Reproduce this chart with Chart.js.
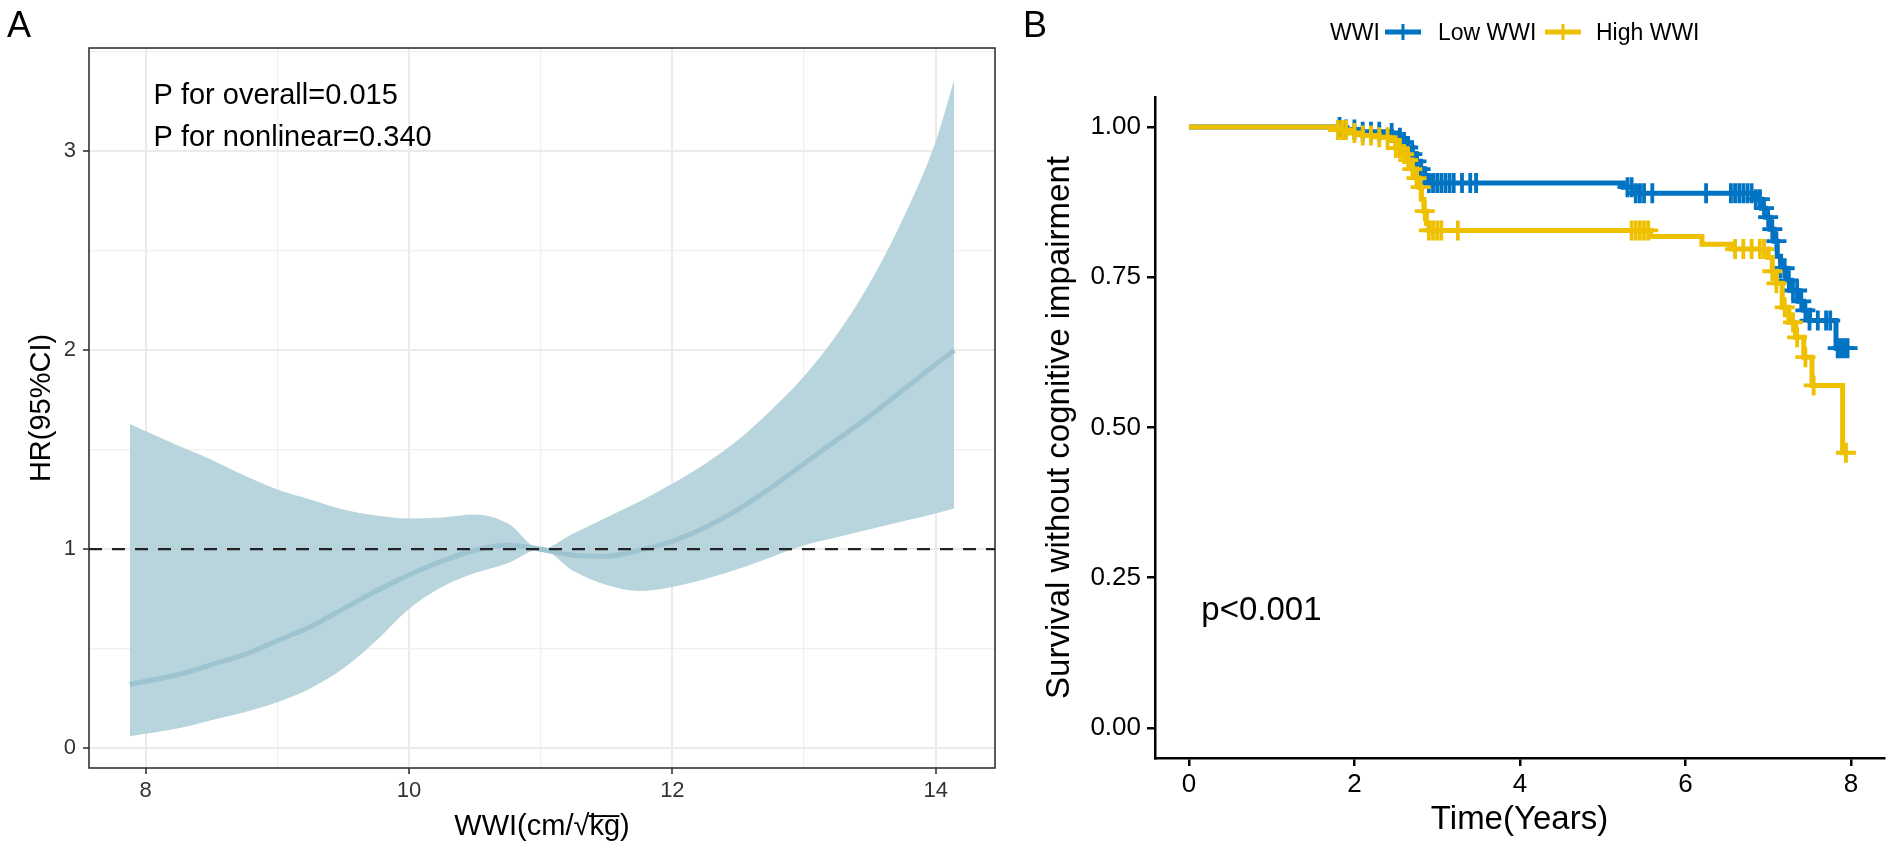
<!DOCTYPE html>
<html>
<head>
<meta charset="utf-8">
<script src="https://cdn.jsdelivr.net/npm/chart.js@4.4.1/dist/chart.umd.min.js"></script>
<style>
  html, body { margin: 0; padding: 0; background: #fff; overflow: hidden; }
  canvas { position: absolute; top: 0; }
  #rcs { left: 0; }
  #km { left: 1000px; }
</style>
</head>
<body>
<canvas id="rcs" width="1000" height="852"></canvas>
<canvas id="km" width="902" height="852"></canvas>
<script>
const FONT = '"Liberation Sans", Arial, sans-serif';

// ---- panel A: restricted cubic spline, HR vs WWI ----
const wwi = [7.88, 8.25, 8.5, 8.75, 9, 9.25, 9.5, 9.75, 10, 10.25, 10.5, 10.75, 11,
  11.25, 11.5, 11.75, 12, 12.25, 12.5, 12.75, 13, 13.25, 13.5, 13.75, 14, 14.14];
const hr = [0.32, 0.37, 0.42, 0.47, 0.54, 0.61, 0.70, 0.79, 0.87, 0.94, 0.995, 1.02, 1.0,
  0.97, 0.965, 0.995, 1.04, 1.11, 1.20, 1.31, 1.43, 1.55, 1.67, 1.80, 1.93, 2.0];
const hrLower = [0.06, 0.10, 0.14, 0.18, 0.23, 0.30, 0.40, 0.54, 0.70, 0.81, 0.88, 0.93, 1.0,
  0.89, 0.82, 0.79, 0.81, 0.85, 0.90, 0.96, 1.02, 1.06, 1.10, 1.14, 1.18, 1.205];
const hrUpper = [1.63, 1.52, 1.45, 1.37, 1.30, 1.25, 1.20, 1.17, 1.155, 1.16, 1.175, 1.13, 1.0,
  1.08, 1.16, 1.24, 1.33, 1.43, 1.55, 1.70, 1.87, 2.08, 2.34, 2.66, 3.05, 3.36];
const wwiTicks = [8, 9, 10, 11, 12, 13, 14];
const hrTicks = [0, 0.5, 1, 1.5, 2, 2.5, 3, 3.5];
const wwiRange = [7.57, 14.45];
const hrRange = [-0.1, 3.52];
const refHR = 1;
const pNotes = ['P for overall=0.015', 'P for nonlinear=0.340'];
const noteAt = { x: 8.06, y: [3.24, 3.025] };

// ---- panel B: Kaplan-Meier ----
const lowTime = [0, 1.85, 2.05, 2.45, 2.52, 2.58, 2.64, 2.7, 2.75, 2.8, 2.85, 2.9, 5.25, 5.4,
  6.85, 6.92, 6.97, 7.02, 7.07, 7.11, 7.15, 7.22, 7.28, 7.36, 7.43, 7.5, 7.82, 7.98];
const lowSurv = [1, 0.996, 0.992, 0.99, 0.982, 0.975, 0.966, 0.955, 0.943, 0.93, 0.918, 0.907, 0.9, 0.89,
  0.88, 0.865, 0.85, 0.83, 0.81, 0.785, 0.765, 0.745, 0.728, 0.71, 0.695, 0.678, 0.632, 0.632];
const lowCensor = [1.82, 1.9, 2.0, 2.1, 2.2, 2.3, 2.45, 2.55, 2.6, 2.65, 2.7, 2.75, 2.8, 2.85, 2.9,
  2.95, 3.0, 3.05, 3.1, 3.15, 3.2, 3.3, 3.4, 3.47, 5.3, 5.35, 5.4, 5.45, 5.5, 5.6, 6.25,
  6.55, 6.6, 6.65, 6.7, 6.75, 6.8, 6.85, 6.9, 6.95, 7.0, 7.05, 7.1, 7.15, 7.2, 7.25, 7.3,
  7.35, 7.4, 7.45, 7.5, 7.6, 7.7, 7.75, 7.84, 7.88, 7.92, 7.96];
const highTime = [0, 1.8, 1.95, 2.1, 2.3, 2.42, 2.5, 2.56, 2.62, 2.7, 2.75, 2.78, 2.81, 2.84, 2.87,
  2.9, 5.58, 6.2, 6.55, 7.0, 7.05, 7.1, 7.17, 7.25, 7.33, 7.43, 7.53, 7.9, 7.97];
const highSurv = [1, 0.995, 0.99, 0.986, 0.983, 0.978, 0.965, 0.955, 0.945, 0.93, 0.915, 0.9, 0.88,
  0.86, 0.84, 0.828, 0.818, 0.805, 0.797, 0.783, 0.76, 0.74, 0.70, 0.675, 0.65, 0.617, 0.57, 0.458, 0.458];
const highCensor = [1.8, 1.85, 1.9, 2.0, 2.1, 2.2, 2.3, 2.4, 2.5, 2.55, 2.6, 2.65, 2.7, 2.75, 2.8,
  2.85, 2.9, 2.95, 3.0, 3.05, 3.25, 5.35, 5.4, 5.45, 5.5, 5.55, 6.6, 6.7, 6.8, 6.9, 6.95,
  7.05, 7.1, 7.2, 7.3, 7.35, 7.45, 7.55, 7.94];
const timeTicks = [0, 2, 4, 6, 8];
const survTicks = [0, 0.25, 0.5, 0.75, 1];
const timeRange = [-0.41, 8.4];
const survRange = [-0.05, 1.05];
const groups = ['Low WWI', 'High WWI'];
const groupColors = ['#0073C2', '#EFC000'];
const pText = 'p<0.001';
const pAt = { x: 0.15, y: 0.2 };

const pts = (xs, ys) => xs.map((x, i) => ({ x: x, y: ys[i] }));
// survival value of a step curve at time t (for placing censor marks)
function survAt(times, surv, t) {
  let s = surv[0];
  for (let i = 0; i < times.length; i++) if (times[i] <= t) s = surv[i];
  return s;
}

// ---------- chart A ----------
const frameA = {
  id: 'frameA',
  afterDatasetsDraw(chart) {
    const { ctx, chartArea: a, scales: { x, y } } = chart;
    ctx.save();
    ctx.strokeStyle = '#333';
    ctx.lineWidth = 1.6;
    ctx.strokeRect(a.left, a.top, a.right - a.left, a.bottom - a.top);
    ctx.fillStyle = '#000';
    ctx.font = '29px ' + FONT;
    ctx.textBaseline = 'alphabetic';
    pNotes.forEach((t, i) => ctx.fillText(t, x.getPixelForValue(noteAt.x), y.getPixelForValue(noteAt.y[i])));
    ctx.font = '36px ' + FONT;
    ctx.fillText('A', 7, 37);
    ctx.restore();
  }
};

new Chart(document.getElementById('rcs'), {
  type: 'line',
  data: {
    datasets: [
      {
        data: [{ x: wwiRange[0], y: refHR }, { x: wwiRange[1], y: refHR }],
        borderColor: '#222', borderWidth: 2.2, borderDash: [13, 10],
        pointRadius: 0, order: 0
      },
      {
        data: pts(wwi, hr),
        borderColor: '#9ec3d1', borderWidth: 5, pointRadius: 0,
        cubicInterpolationMode: 'monotone', order: 1
      },
      {
        data: pts(wwi, hrLower),
        borderWidth: 0, borderColor: 'rgba(0,0,0,0)', pointRadius: 0,
        cubicInterpolationMode: 'monotone', order: 3
      },
      {
        data: pts(wwi, hrUpper),
        borderWidth: 0, borderColor: 'rgba(0,0,0,0)', pointRadius: 0,
        backgroundColor: '#b8d5de', fill: 2,
        cubicInterpolationMode: 'monotone', order: 2
      }
    ]
  },
  options: {
    responsive: false,
    animation: false,
    layout: { padding: { top: 48, right: 5, left: 0, bottom: 0 } },
    plugins: { legend: { display: false }, tooltip: { enabled: false } },
    scales: {
      x: {
        type: 'linear', min: wwiRange[0], max: wwiRange[1],
        afterFit: s => { s.height = 84; },
        afterBuildTicks: s => { s.ticks = wwiTicks.map(v => ({ value: v })); },
        ticks: {
          callback: v => (v % 2 === 0 ? String(v) : ''),
          font: { size: 22, family: FONT }, color: '#333', padding: 4, maxRotation: 0
        },
        grid: {
          color: c => (c.tick && c.tick.value % 2 === 0 ? '#ebebeb' : '#f0f0f0'),
          lineWidth: c => (c.tick && c.tick.value % 2 === 0 ? 2 : 1.2),
          tickLength: 6,
          tickColor: c => (c.tick && c.tick.value % 2 === 0 ? '#333' : 'rgba(0,0,0,0)'),
          tickWidth: 1.6
        },
        border: { display: false },
        title: {
          display: true, text: 'WWI(cm/√k̅g̅)', color: '#000',
          font: { size: 29, family: FONT }, padding: { top: 0, bottom: 8 }
        }
      },
      y: {
        type: 'linear', min: hrRange[0], max: hrRange[1],
        afterFit: s => { s.width = 89; },
        afterBuildTicks: s => { s.ticks = hrTicks.map(v => ({ value: v })); },
        ticks: {
          callback: v => (Number.isInteger(v) ? String(v) : ''),
          font: { size: 22, family: FONT }, color: '#333', padding: 7
        },
        grid: {
          color: c => (c.tick && Number.isInteger(c.tick.value) ? '#ebebeb' : '#f0f0f0'),
          lineWidth: c => (c.tick && Number.isInteger(c.tick.value) ? 2 : 1.2),
          tickLength: 6,
          tickColor: c => (c.tick && Number.isInteger(c.tick.value) ? '#333' : 'rgba(0,0,0,0)'),
          tickWidth: 1.6
        },
        border: { display: false },
        title: {
          display: true, text: 'HR(95%CI)', color: '#000',
          font: { size: 29, family: FONT }, padding: { top: 25, bottom: 0 }
        }
      }
    }
  },
  plugins: [frameA]
});

// ---------- chart B ----------
const legendB = {
  id: 'legendB',
  afterDraw(chart) {
    const { ctx, scales: { x, y } } = chart;
    ctx.save();
    ctx.fillStyle = '#000';
    ctx.textBaseline = 'alphabetic';
    ctx.font = '36px ' + FONT;
    ctx.fillText('B', 23, 37);
    ctx.font = '33px ' + FONT;
    ctx.fillText(pText, x.getPixelForValue(pAt.x), y.getPixelForValue(pAt.y) + 12);
    // legend row
    ctx.font = '23px ' + FONT;
    ctx.fillText('WWI', 330, 40);
    const sym = [[385, 438], [545, 596]];
    groups.forEach((g, i) => {
      const [sx, tx] = sym[i];
      ctx.strokeStyle = groupColors[i];
      ctx.lineWidth = 5;
      ctx.beginPath(); ctx.moveTo(sx, 32); ctx.lineTo(sx + 36, 32); ctx.stroke();
      ctx.lineWidth = 3;
      ctx.beginPath(); ctx.moveTo(sx + 18, 24); ctx.lineTo(sx + 18, 40); ctx.stroke();
      ctx.fillText(g, tx, 40);
    });
    ctx.restore();
  }
};

const curves = [[lowTime, lowSurv, lowCensor], [highTime, highSurv, highCensor]];
const kmSets = [];
curves.forEach(([t, s, c], i) => {
  kmSets.push({
    label: groups[i],
    data: pts(t, s),
    stepped: true,
    borderColor: groupColors[i], borderWidth: 5,
    pointRadius: 0, order: i === 0 ? 3 : 1
  });
  kmSets.push({
    label: groups[i] + ' censored',
    data: c.map(v => ({ x: v, y: survAt(t, s, v) })),
    showLine: false,
    pointStyle: 'cross', pointRadius: 10, pointBorderWidth: 3.8,
    pointBorderColor: groupColors[i], borderColor: groupColors[i],
    order: i === 0 ? 2 : 0
  });
});

new Chart(document.getElementById('km'), {
  type: 'line',
  data: { datasets: kmSets },
  options: {
    responsive: false,
    animation: false,
    layout: { padding: { top: 97, right: 18, left: 0, bottom: 0 } },
    plugins: { legend: { display: false }, tooltip: { enabled: false } },
    scales: {
      x: {
        type: 'linear', min: timeRange[0], max: timeRange[1],
        afterFit: s => { s.height = 94; },
        afterBuildTicks: s => { s.ticks = timeTicks.map(v => ({ value: v })); },
        ticks: { font: { size: 26, family: FONT }, color: '#000', padding: 3, maxRotation: 0 },
        grid: { drawOnChartArea: false, tickLength: 8, color: '#000', lineWidth: 2.5 },
        border: { display: true, color: '#000', width: 2.5 },
        title: {
          display: true, text: 'Time(Years)', color: '#000',
          font: { size: 33, family: FONT }, padding: { top: 0, bottom: 12 }
        }
      },
      y: {
        type: 'linear', min: survRange[0], max: survRange[1],
        afterFit: s => { s.width = 155; },
        afterBuildTicks: s => { s.ticks = survTicks.map(v => ({ value: v })); },
        ticks: {
          callback: v => v.toFixed(2),
          font: { size: 26, family: FONT }, color: '#000', padding: 6
        },
        grid: { drawOnChartArea: false, tickLength: 8, color: '#000', lineWidth: 2.5 },
        border: { display: true, color: '#000', width: 2.5 },
        title: {
          display: true, text: 'Survival without cognitive impairment', color: '#000',
          font: { size: 33, family: FONT }, padding: { top: 40, bottom: 0 }
        }
      }
    }
  },
  plugins: [legendB]
});
</script>
</body>
</html>
